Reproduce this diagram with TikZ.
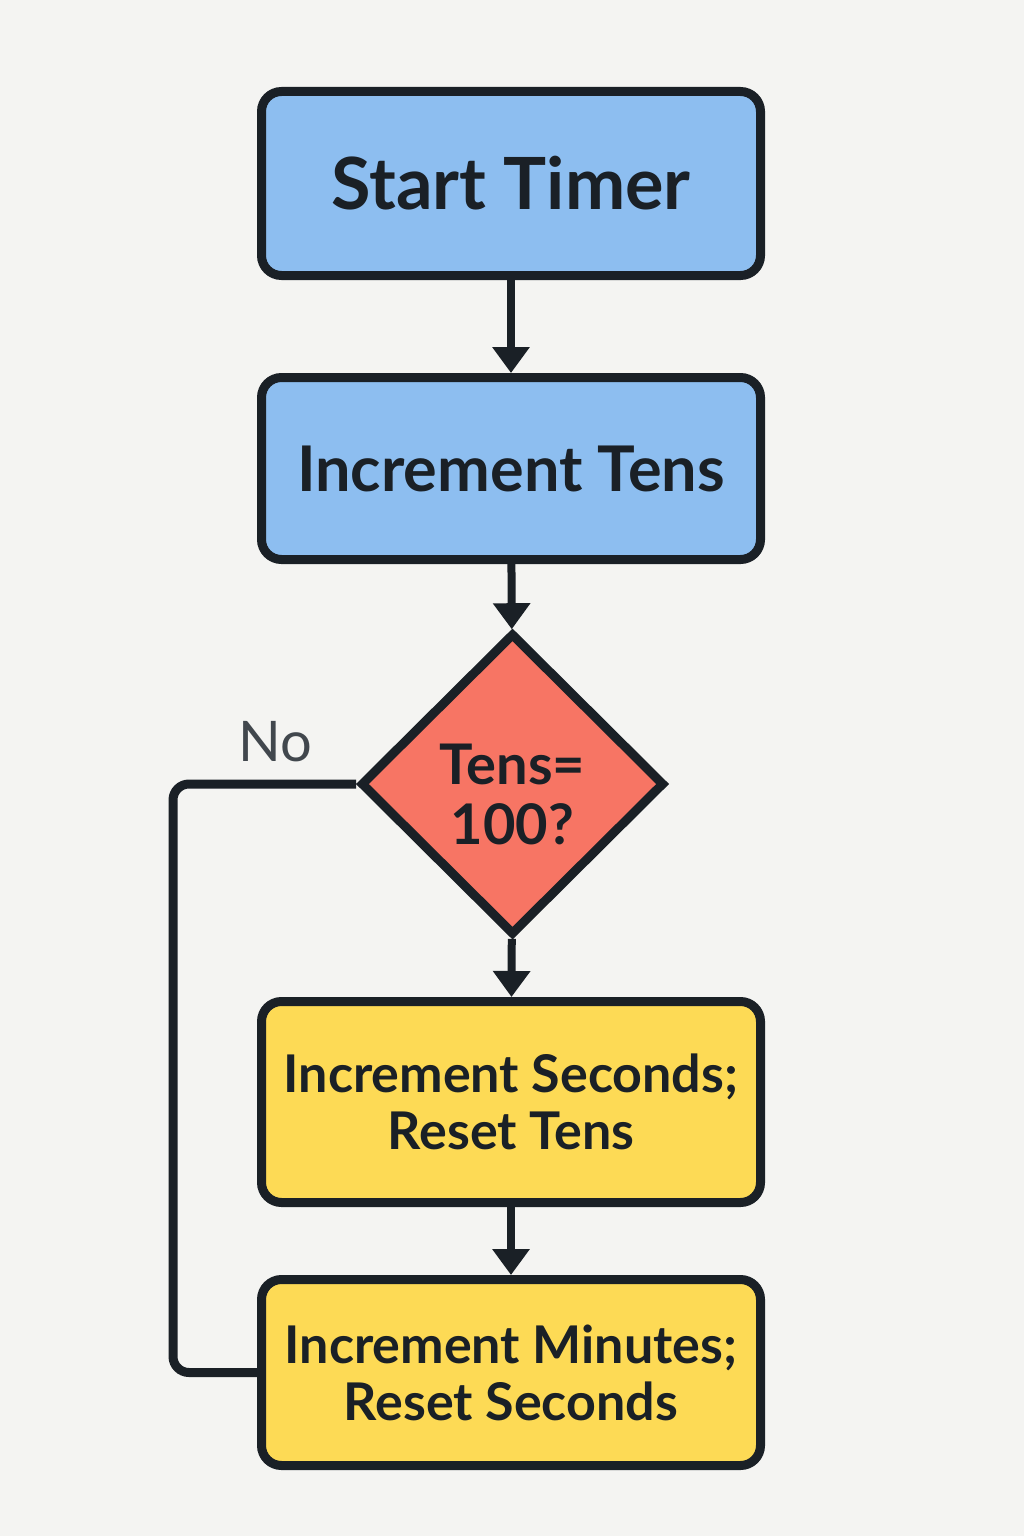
\documentclass[tikz,border=0pt]{standalone}
\usepackage{fontspec}
\setmainfont{Lato}
\newfontfamily\lbl{Lato}
\usetikzlibrary{shapes.geometric,arrows.meta}
\definecolor{bg}{HTML}{F4F4F2}
\definecolor{ink}{HTML}{1A2026}
\definecolor{bluef}{HTML}{8DBEF0}
\definecolor{redf}{HTML}{F77564}
\definecolor{yelf}{HTML}{FDDA55}
\definecolor{nogray}{HTML}{41474D}
\begin{document}
\begin{tikzpicture}[x=1pt,y=-1pt,
  boxst/.style={draw=ink,line width=9pt,rounded corners=20pt,minimum width=499pt,
    minimum height=184pt,inner sep=0pt,align=center,text=ink,font=\lbl\bfseries},
  decst/.style={draw=ink,line width=9pt,diamond,minimum width=304pt,minimum height=302pt,
    inner sep=0pt,fill=redf},
  dtext/.style={inner sep=0pt,align=center,text=ink,font=\lbl\bfseries\fontsize{56}{60}\selectfont},
  conn/.style={draw=ink,line width=8pt,-{Triangle[width=36pt,length=26pt]}},
  loopst/.style={draw=ink,line width=9pt,rounded corners=16pt}]
\fill[bg] (0,0) rectangle (1024,1536);
\useasboundingbox (0,0) rectangle (1024,1536);
\node[boxst,fill=bluef,font=\lbl\bfseries\fontsize{72}{76}\selectfont] (start) at (511,183.5) {Start Timer};
\node[boxst,fill=bluef,minimum height=182pt,font=\lbl\bfseries\fontsize{63}{66}\selectfont] (tens) at (511,468.5) {Increment Tens};
\node[decst] (dec) at (512.5,784) {};
\node[dtext] (dect) at ([yshift=-10pt]dec.center) {Tens=\\[0pt]100?};
\node[boxst,fill=yelf,minimum height=201pt,font=\lbl\bfseries\fontsize{52}{57}\selectfont] (sec) at (511,1102) {Increment Seconds;\\Reset Tens};
\node[boxst,fill=yelf,minimum height=186pt,font=\lbl\bfseries\fontsize{52}{57}\selectfont] (min) at (511,1372.5) {\raisebox{0pt}{Increment Minutes;}\\Reset Seconds};
\node[text=nogray,font=\lbl\fontsize{56}{60}\selectfont,inner sep=0pt] (no) at (275,742) {No};
\coordinate (lc) at (173,1000);
\draw[conn] (start) -- (tens);
\draw[conn] (tens) -- (dec);
\draw[conn] (dec) -- (sec);
\draw[conn] (sec) -- (min);
\draw[loopst] (dec.west) -| (lc) |- (min.west);
\end{tikzpicture}
\end{document}
